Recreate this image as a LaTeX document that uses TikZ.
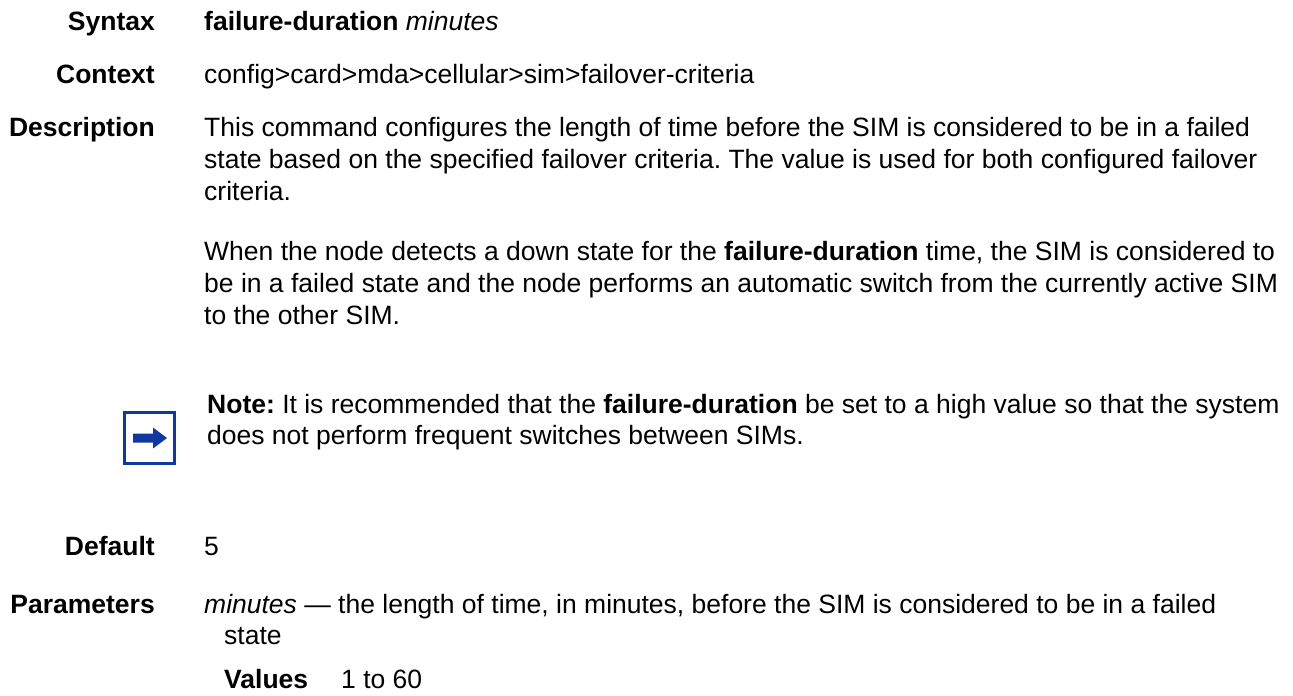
\documentclass[tikz,border=0pt]{standalone}
\usepackage{fontspec}
\setmainfont{Liberation Sans}
\definecolor{noteblue}{RGB}{16,56,160}
\frenchspacing

\begin{document}
\begin{tikzpicture}[x=1pt,y=-1pt,
    font=\fontsize{26.5}{32}\selectfont,
    head/.style={anchor=base east,inner sep=0pt,font=\fontsize{26.5}{32}\selectfont\bfseries},
    body/.style={anchor=base west,inner sep=0pt},
    notebox/.style={draw=noteblue,line width=3pt,minimum width=50pt,minimum height=51pt,inner sep=0pt}]
    \useasboundingbox (0,0) rectangle (1293,696);
    \node[head] (syn) at (155,30) {Syntax};
    \node[body] (synt) at (204,30) {\textbf{failure-duration} \textit{minutes}};
    \node[head] (ctx) at (155,83) {Context};
    \node[body] (ctxt) at (204,83) {config>card>mda>cellular>sim>failover-criteria};
    \node[head] (desc) at (155,136) {Description};
    \node[body] (desca) at (204,136) {This command configures the length of time before the SIM is considered to be in a failed};
    \node[body] (descb) at (204,168) {state based on the specified failover criteria. The value is used for both configured failover};
    \node[body] (descc) at (204,200) {criteria.};
    \node[body] (descd) at (204,260) {When the node detects a down state for the \textbf{failure-duration} time, the SIM is considered to};
    \node[body] (desce) at (204,292) {be in a failed state and the node performs an automatic switch from the currently active SIM};
    \node[body] (descf) at (204,324) {to the other SIM.};
    \node[notebox] (icon) at (149.5,438) {};
    \fill[noteblue] (icon.center) ++(-16.5,-4.5) -- ++(20,0) -- ++(0,-6) -- ++(14,10.5)
        -- ++(-14,10.5) -- ++(0,-6) -- ++(-20,0) -- cycle;
    \node[body] (notea) at (207,413) {\textbf{Note:} It is recommended that the \textbf{failure-duration} be set to a high value so that the system};
    \node[body] (noteb) at (207,444) {does not perform frequent switches between SIMs.};
    \node[head] (dflt) at (155,555) {Default};
    \node[body] (dfltt) at (204,555) {5};
    \node[head] (par) at (155,613) {Parameters};
    \node[body] (para) at (204,613) {\textit{minutes} \textemdash{} the length of time, in minutes, before the SIM is considered to be in a failed};
    \node[body] (parb) at (224,644) {state};
    \node[body,font=\fontsize{26.5}{32}\selectfont\bfseries] (val) at (224,688) {Values};
    \node[body] (valt) at (341,688) {1 to 60};
\end{tikzpicture}
\end{document}
